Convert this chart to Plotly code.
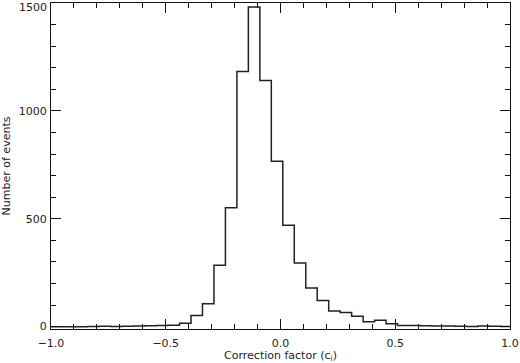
import numpy as np
import plotly.graph_objects as go

# Histogram bin left edges (bin width 0.05)
bin_left = [round(-0.99 + 0.05 * i, 2) for i in range(40)]
counts = [0, 0, 0, 1, 2, 1, 2, 3, 4, 5, 6,
          16, 51, 106, 284, 551, 1183, 1481, 1141, 767, 470,
          295, 179, 121, 73, 65, 48, 23, 30, 13, 5,
          5, 4, 3, 3, 2, 1, 3, 2, 1]

x_ticks = [-1.0, -0.5, 0.0, 0.5, 1.0]
x_ticktext = ["\u22121.0", "\u22120.5", "0.0", "0.5", "1.0"]
y_ticks = [0, 500, 1000, 1500]
y_ticktext = ["0", "500", "1000", ""]

xs = [-1.0] + bin_left[1:] + [1.0]
ys = [counts[0]] + counts[1:] + [counts[-1]]

font_fam = "DejaVu Sans, Verdana, sans-serif"
ink = "#222222"
fs = 11

fig = go.Figure()
fig.add_trace(go.Scatter(x=xs, y=ys, mode="lines", line=dict(shape="hv", color=ink, width=1.5),
                         showlegend=False, hoverinfo="skip"))

axis_common = dict(showline=True, linecolor="#111111", linewidth=1, mirror="allticks",
                   ticks="inside", ticklen=10, tickwidth=1, tickcolor="#111111",
                   showgrid=False, zeroline=False, automargin=False,
                   tickfont=dict(family=font_fam, size=fs, color=ink))

fig.update_xaxes(range=[-1, 1], tickvals=x_ticks, ticktext=x_ticktext, ticklabelstandoff=4,
                 minor=dict(dtick=0.1, tick0=0, ticks="inside", ticklen=5, tickcolor="#111111", showgrid=False),
                 title=dict(text="Correction factor (c<sub>i</sub>)", font=dict(family=font_fam, size=fs, color=ink), standoff=6),
                 **axis_common)
fig.update_yaxes(range=[-11, 1500], tickvals=y_ticks, ticktext=y_ticktext, ticklabelstandoff=1,
                 minor=dict(dtick=100, tick0=0, ticks="inside", ticklen=5, tickcolor="#111111", showgrid=False),
                 title=dict(text="Number of events", font=dict(family=font_fam, size=fs, color=ink), standoff=6),
                 **axis_common)

fig.add_annotation(x=0, xref="paper", y=1500, yref="y", text="1500", showarrow=False,
                   xanchor="right", yanchor="middle", xshift=-2, yshift=-4,
                   font=dict(family=font_fam, size=fs, color=ink))

fig.update_layout(width=520, height=363, margin=dict(l=51, r=10, t=3, b=34),
                  plot_bgcolor="white", paper_bgcolor="white")
fig.write_html("out.html")
